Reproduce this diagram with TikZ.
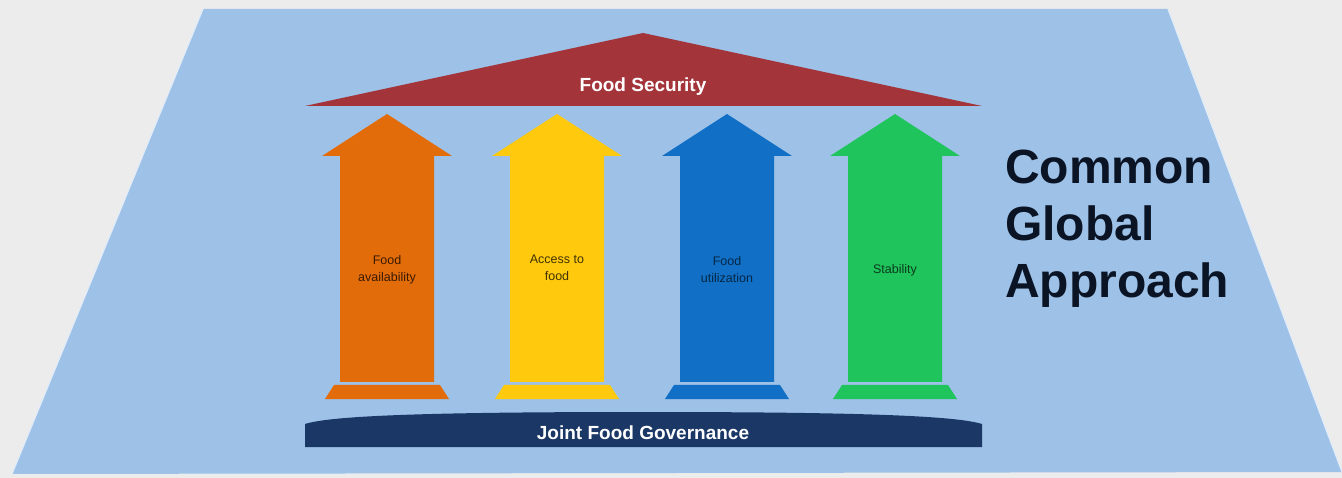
\documentclass[tikz,border=0pt]{standalone}
\usepackage{fontspec}
\setmainfont{Liberation Sans}
\definecolor{bggray}{HTML}{ECECEC}
\definecolor{plane}{HTML}{9DC1E7}
\definecolor{roofred}{HTML}{A3343A}
\definecolor{pOrange}{HTML}{E36C0A}
\definecolor{pYellow}{HTML}{FFC90E}
\definecolor{pBlue}{HTML}{1170C6}
\definecolor{pGreen}{HTML}{20C45C}
\definecolor{navy}{HTML}{1A3766}
\definecolor{titleink}{HTML}{0B1424}
\tikzset{
  pillartext/.style={font=\fontsize{12.5}{17}\selectfont, align=center, inner sep=0pt},
  whitelabel/.style={font=\bfseries\fontsize{19}{22}\selectfont, text=white, inner sep=0pt},
  bigtitle/.style={font=\bfseries\fontsize{48}{57}\selectfont, text=titleink, anchor=base west, inner sep=0pt}
}
% pillar macro: #1 = centre x, #2 = colour
\newcommand{\pillarshape}[2]{%
  \fill[#2] (#1-47,382) -- (#1-47,156) -- (#1-65,156) -- (#1,114) -- (#1+65,156) -- (#1+47,156) -- (#1+47,382) -- cycle;
  \fill[#2] (#1-53,385) -- (#1+53,385) -- (#1+62,399) -- (#1-62,399) -- cycle;
}
\begin{document}
\begin{tikzpicture}[x=1pt,y=-1pt]
\useasboundingbox (0,0) rectangle (1342,478);
\fill[bggray] (0,0) rectangle (1342,478);
% plane
\fill[plane] (203,9) -- (1168,9) -- (1342,472) -- (12,474) -- cycle;
\draw[white!70!plane, line width=1.2pt] (12,474) -- (203,9);
\draw[white!70!plane, line width=1.2pt] (1168,9) -- (1342,472);
% roof
\fill[roofred] (305,106) -- (643,33) -- (982,106) -- cycle;
\node[whitelabel] (roof) at (643,87) {Food Security};
% pillars
\pillarshape{387}{pOrange}
\pillarshape{557}{pYellow}
\pillarshape{727}{pBlue}
\pillarshape{895}{pGreen}
\node[pillartext, text=black!75!pOrange] (p1) at (387,270) {Food\\availability};
\node[pillartext, text=black!75!pYellow] (p2) at (557,268) {Access to\\food};
\node[pillartext, text=black!65!pBlue] (p3) at (727,270) {Food\\utilization};
\node[pillartext, text=black!70!pGreen] (p4) at (895,270) {Stability};
% base
\fill[navy] (305,447) -- (305,424) .. controls (330,416) and (420,412) .. (643,412) .. controls (866,412) and (956,416) .. (982,424) -- (982,447) -- cycle;
\node[whitelabel] (base) at (643,433) {Joint Food Governance};
% title
\node[bigtitle] (t1) at (1005,184) {Common};
\node[bigtitle] (t2) at (1005,241) {Global};
\node[bigtitle] (t3) at (1005,298) {Approach};
\end{tikzpicture}
\end{document}
